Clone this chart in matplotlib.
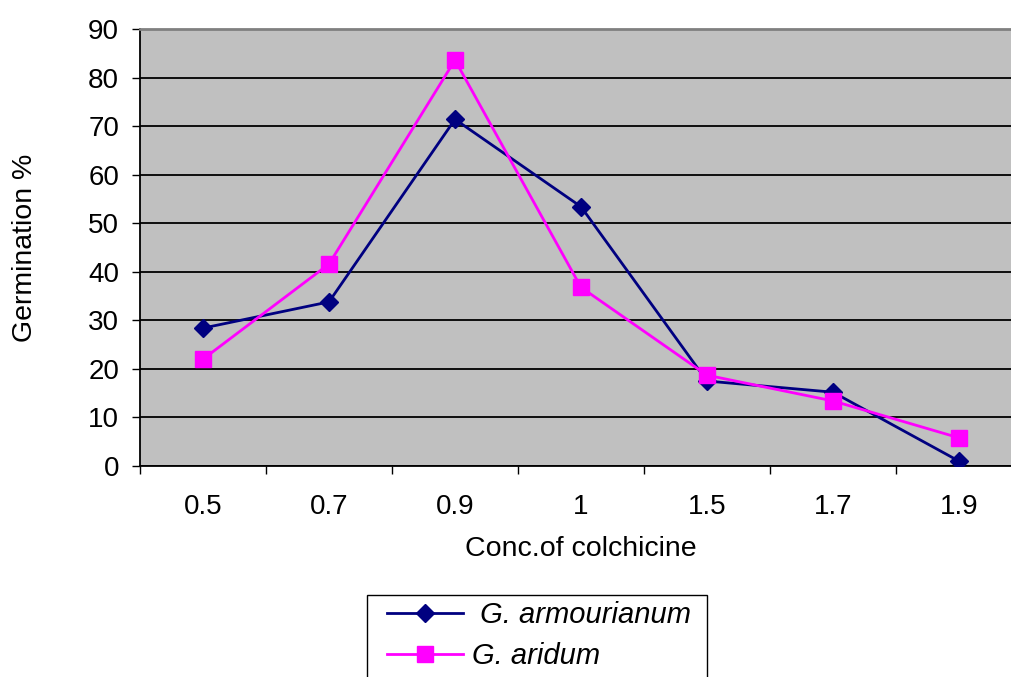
import matplotlib.pyplot as plt
from matplotlib.patches import Rectangle
from matplotlib.ticker import FixedLocator

plt.rcParams['font.family'] = ['Liberation Sans', 'DejaVu Sans']

conc = ['0.5', '0.7', '0.9', '1', '1.5', '1.7', '1.9']
armourianum = [28.4, 33.8, 71.4, 53.4, 17.5, 15.2, 1.0]
aridum = [22.0, 41.6, 83.6, 36.8, 18.7, 13.4, 5.8]

W, H = 1011, 677
fig = plt.figure(figsize=(W / 100, H / 100), dpi=100)
ax = fig.add_axes([140 / W, (H - 466) / H, (1022 - 140) / W, (466 - 29) / H])
ax.set_facecolor('#c0c0c0')

x = list(range(len(conc)))
ax.plot(x, armourianum, color='#000080', lw=2, marker='D', markersize=9.5,
        label=' G. armourianum', zorder=3)
ax.plot(x, aridum, color='#ff00ff', lw=2, marker='s', markersize=11.5,
        label='G. aridum', zorder=3)

ax.set_xlim(-0.5, len(conc) - 0.5)
ax.set_ylim(0, 90)
ax.set_yticks(range(0, 91, 10))
ax.yaxis.grid(True, color='black', lw=1.3)
ax.set_axisbelow(True)

ax.set_xticks(x)
ax.set_xticklabels(conc)
ax.xaxis.set_minor_locator(FixedLocator([i - 0.5 for i in range(len(conc) + 1)]))
ax.tick_params(axis='x', which='major', length=0, pad=20, labelsize=20)
ax.tick_params(axis='x', which='minor', length=6, width=1, color='black')
ax.tick_params(axis='y', length=6, width=1, labelsize=20, pad=9)

for s in ['left', 'bottom']:
    ax.spines[s].set_color('black')
    ax.spines[s].set_linewidth(1.3)
ax.spines['top'].set_color('#808080')
ax.spines['top'].set_linewidth(2)
ax.spines['right'].set_visible(False)

ax.set_xlabel('Conc.of colchicine', fontsize=20.5)
ax.xaxis.set_label_coords(0.5, (466 - 536) / 437)
ax.set_ylabel('Germination %', fontsize=20.5)
ax.yaxis.set_label_coords((38 - 140) / 882, 0.5)

# legend box runs off the bottom edge of the picture
fig.patches.append(Rectangle((367 / W, -0.05), (707 - 367) / W, (H - 595) / H + 0.05,
                             transform=fig.transFigure, facecolor='white',
                             edgecolor='black', lw=1, zorder=0))
fig.legend(loc='upper left', bbox_to_anchor=(387 / W, 1 - 601 / H),
           frameon=False, prop={'size': 21, 'style': 'italic'},
           handlelength=2.6, handletextpad=0.3, borderpad=0,
           labelspacing=0.45, borderaxespad=0)

fig.savefig('out.png', dpi=100)
